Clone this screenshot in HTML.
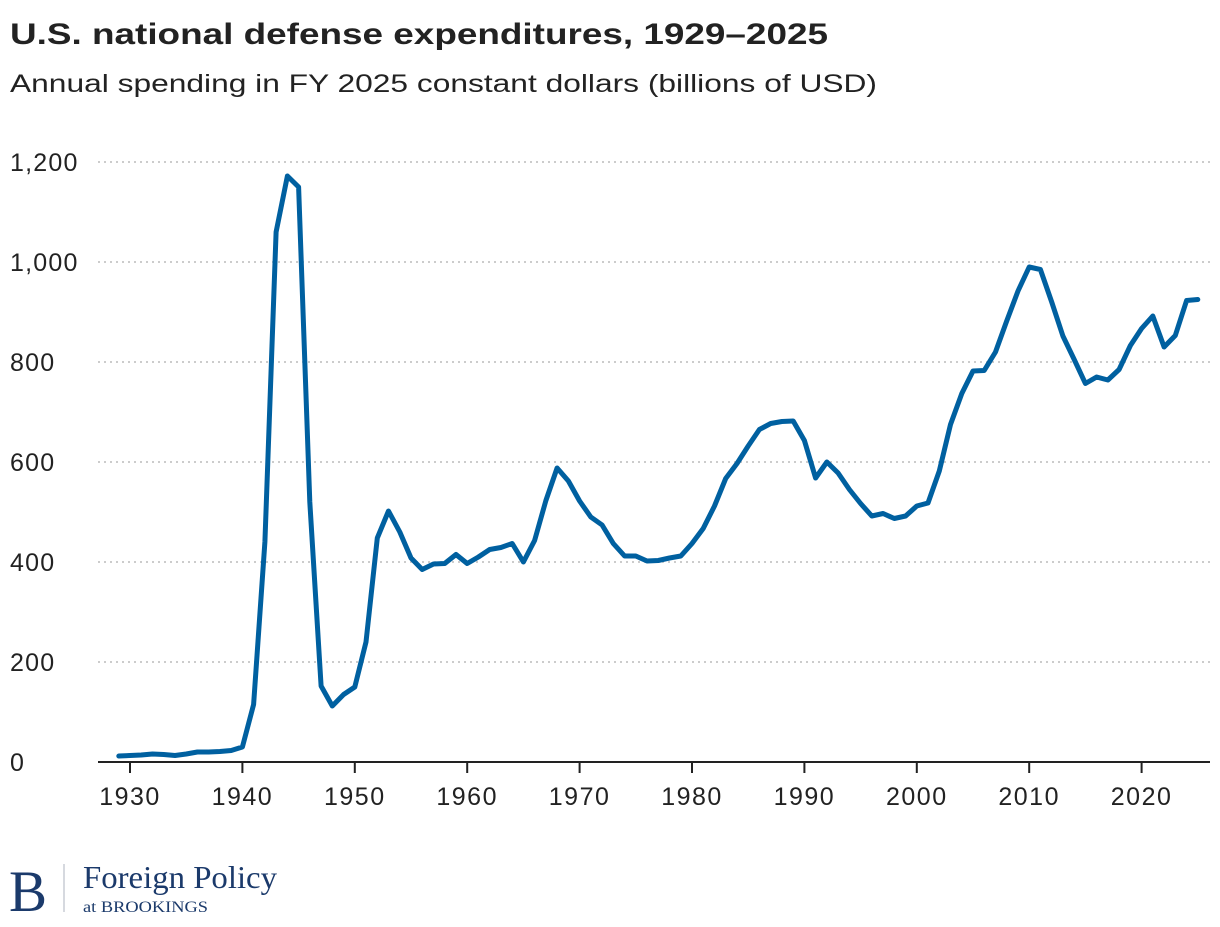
<!DOCTYPE html>
<html><head><meta charset="utf-8"><style>
body{margin:0;background:#fff;width:1220px;height:922px;overflow:hidden;font-family:"Liberation Sans",sans-serif}
</style></head><body>
<svg width="1220" height="922">
<text x="10" y="44" font-size="30" font-weight="bold" fill="#222" textLength="818" lengthAdjust="spacingAndGlyphs">U.S. national defense expenditures, 1929–2025</text>
<text x="10" y="92" font-size="25" fill="#222" textLength="867" lengthAdjust="spacingAndGlyphs">Annual spending in FY 2025 constant dollars (billions of USD)</text>
<g id="grid"></g><g id="axes"></g>
<path id="line" fill="none" stroke="#0060a0" stroke-width="5" stroke-linejoin="round" stroke-linecap="round"/>
<g>
<text x="9" y="911" font-family="Liberation Serif,serif" font-size="58" fill="#1b3a6b" textLength="38" lengthAdjust="spacingAndGlyphs">B</text>
<line x1="64" y1="864" x2="64" y2="912" stroke="#c8ccd4" stroke-width="1.5"/>
<text x="83" y="888" font-family="Liberation Serif,serif" font-size="32" fill="#1b3a6b" textLength="194" lengthAdjust="spacingAndGlyphs">Foreign Policy</text>
<text x="83" y="912" font-family="Liberation Serif,serif" font-size="16" fill="#1b3a6b" textLength="125" lengthAdjust="spacingAndGlyphs">at BROOKINGS</text>
</g>
</svg>
<script>
const years=[];for(let y=1929;y<=2025;y++)years.push(y);
const values=[12,13,14,16,15,13,16,20,20,21,23,30,115,440,1060,1172,1150,520,152,112,135,150,240,448,502,460,408,385,396,397,415,397,410,425,429,437,400,443,523,588,562,522,490,474,437,412,412,402,403,408,412,437,467,512,567,597,632,665,677,681,682,643,568,600,578,545,517,492,497,487,492,512,518,582,675,737,782,783,820,882,942,990,985,920,852,805,757,770,764,785,833,867,892,830,853,923,925];
const yTicks=[0,200,400,600,800,1000,1200];
const yTickLabels=["0","200","400","600","800","1,000","1,200"];
const xTicks=[1930,1940,1950,1960,1970,1980,1990,2000,2010,2020];
const xs=y=>130+(y-1930)*11.24;
const ys=v=>762-v*0.5;
const NS="http://www.w3.org/2000/svg";
const grid=document.getElementById('grid'),axes=document.getElementById('axes');
function mk(tag,attrs,parent){const e=document.createElementNS(NS,tag);for(const k in attrs)e.setAttribute(k,attrs[k]);parent.appendChild(e);return e;}
yTicks.forEach((t,i)=>{
 if(t>0){const l=mk('line',{x1:98,x2:1210,y1:ys(t),y2:ys(t),stroke:'#bbb','stroke-width':1.5,'stroke-dasharray':'2 4'},grid);
 
 }
 const lab=yTickLabels[i];
 const tx=mk('text',{x:10,y:ys(t)+9,'font-size':25,fill:'#222','letter-spacing':1.2},axes);tx.textContent=lab;
 
 
});
const base=mk('line',{x1:98,x2:1210,y1:762,y2:762,stroke:'#222','stroke-width':2},axes);


xTicks.forEach(t=>{
 mk('line',{x1:xs(t),x2:xs(t),y1:762,y2:773,stroke:'#222','stroke-width':2},axes);
 const tx=mk('text',{x:xs(t),y:805,'font-size':25,fill:'#222','text-anchor':'middle','letter-spacing':1.5},axes);tx.textContent=t;
 
 
});
document.getElementById('line').setAttribute('d',years.map((y,i)=>(i?'L':'M')+xs(y).toFixed(1)+','+ys(values[i]).toFixed(1)).join(''));
</script>
</body></html>
